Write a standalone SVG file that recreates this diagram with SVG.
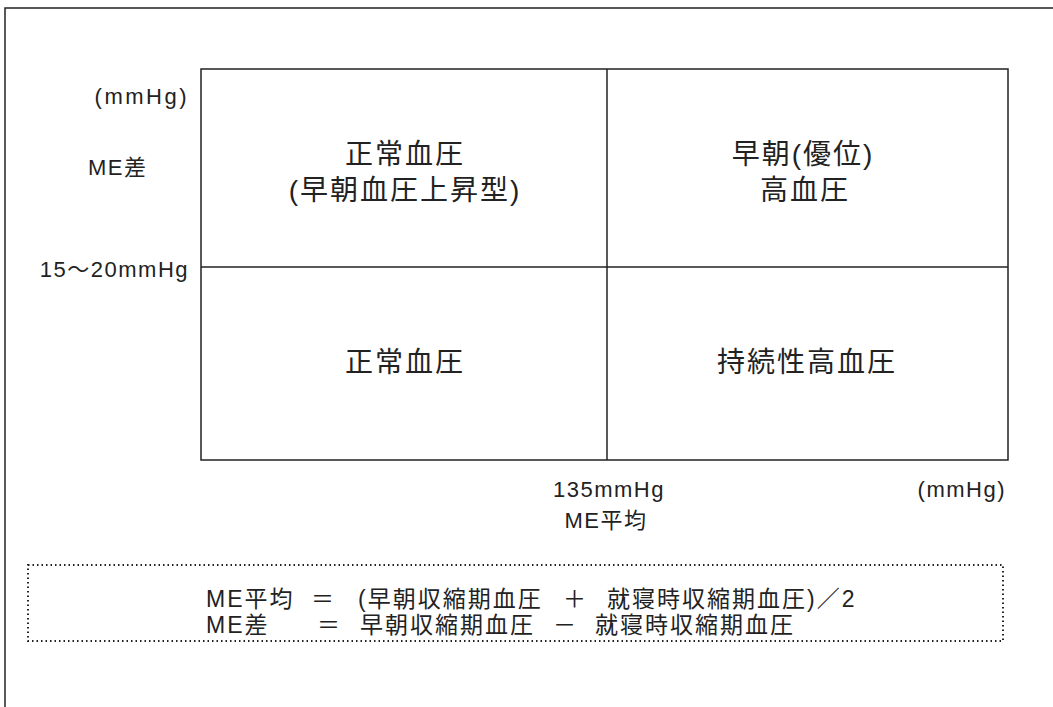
<svg xmlns="http://www.w3.org/2000/svg" width="1053" height="707" viewBox="0 0 1053 707">
<style>
.ln{stroke:#222;stroke-width:1.5;fill:none}
.t{font-family:"Liberation Sans","Noto Sans CJK JP",sans-serif;fill:#222}
.q{font-size:28px;text-anchor:middle;letter-spacing:2px}
.l{font-size:22px;letter-spacing:1.5px}
.f{font-size:23px;letter-spacing:2px}
</style>
<rect width="1053" height="707" fill="#fff"/>
<g id="frame">
<path class="ln" d="M5 707 V8 H1053"/>
</g>
<g id="grid">
<rect class="ln" x="201" y="69" width="807" height="391"/>
</g>
<g id="connectors">
<line class="ln" x1="607" y1="69" x2="607" y2="460"/>
<line class="ln" x1="201" y1="267" x2="1008" y2="267"/>
</g>
<g id="q-tl"><text class="t q" x="405" y="164">正常血圧</text><text class="t q" x="405" y="200">(早朝血圧上昇型)</text></g>
<g id="q-tr"><text class="t q" x="803" y="164">早朝(優位)</text><text class="t q" x="805" y="200">高血圧</text></g>
<g id="q-bl"><text class="t q" x="405" y="372">正常血圧</text></g>
<g id="q-br"><text class="t q" x="807" y="372">持続性高血圧</text></g>
<g id="y-labels">
<text class="t l" x="189" y="104" text-anchor="end" style="letter-spacing:2.5px">(mmHg)</text>
<text class="t l" x="88" y="175">ME差</text>
<text class="t l" x="189" y="277" text-anchor="end">15〜20mmHg</text>
</g>
<g id="x-labels">
<text class="t l" x="609" y="497" text-anchor="middle">135mmHg</text>
<text class="t l" x="606" y="528" text-anchor="middle">ME平均</text>
<text class="t l" x="1006" y="497" text-anchor="end">(mmHg)</text>
</g>
<g id="formula">
<rect x="28" y="565" width="975" height="76" fill="none" stroke="#222" stroke-width="2" stroke-dasharray="1.5 3"/>
<text class="t f" y="607"><tspan x="206">ME平均</tspan><tspan x="311">＝</tspan><tspan x="358">(早朝収縮期血圧</tspan><tspan x="563">＋</tspan><tspan x="607">就寝時収縮期血圧)／2</tspan></text>
<text class="t f" y="633"><tspan x="206">ME差</tspan><tspan x="317">＝</tspan><tspan x="360">早朝収縮期血圧</tspan><tspan x="553">－</tspan><tspan x="595">就寝時収縮期血圧</tspan></text>
</g>
</svg>
